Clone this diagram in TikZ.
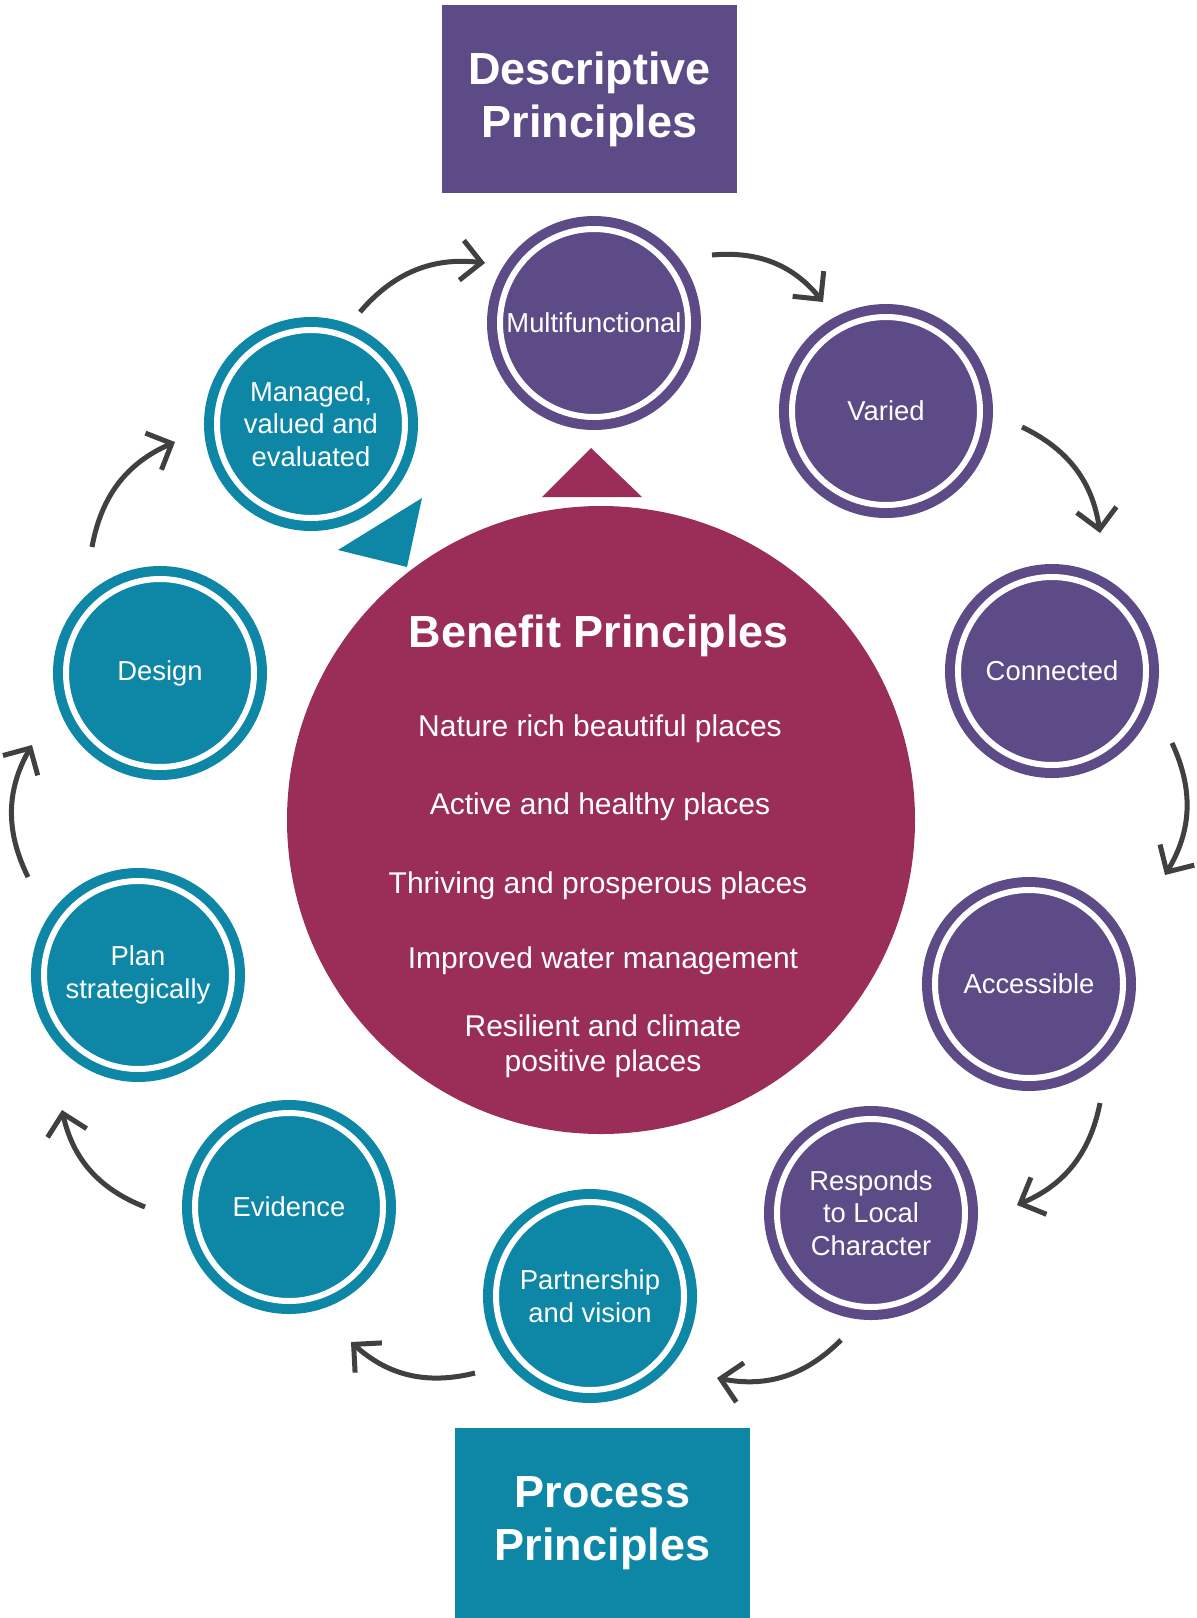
\documentclass[tikz,border=0pt]{standalone}
\usepackage{fontspec}
\setmainfont{Liberation Sans}
\usepackage{xcolor}
\usetikzlibrary{positioning,arrows.meta}

\definecolor{descpurple}{HTML}{5C4B87}
\definecolor{procteal}{HTML}{0E86A6}
\definecolor{benefitred}{HTML}{9A2E58}
\definecolor{arrowgray}{HTML}{404040}

\begin{document}
\begin{tikzpicture}[x=0.5pt, y=-0.5pt,
  every node/.style={text=white, align=center, font=\fontsize{13.7}{16.3}\selectfont},
  ring/.style={circle, inner sep=0pt, minimum size=94pt, line width=5pt, double=white, double distance=3pt},
  desc/.style={ring, fill=descpurple, draw=descpurple},
  proc/.style={ring, fill=procteal, draw=procteal},
  titlebox/.style={rectangle, inner sep=0pt, minimum width=147.5pt, font=\fontsize{22.5}{26.5}\selectfont\bfseries},
  item/.style={font=\fontsize{15}{17.5}\selectfont},
  flow/.style={draw=arrowgray, line width=2.5pt, -{Straight Barb[length=10pt,width=20pt]}, bend left=28}]

\useasboundingbox[fill=white] (0,0) rectangle (1197,1618);

% Title boxes
\node[titlebox, fill=descpurple, minimum height=94pt] (descbox) at (589.5,99) {Descriptive\\Principles};
\node[titlebox, fill=procteal, minimum height=95pt] (procbox) at (602.5,1523) {Process\\Principles};

% Benefit circle
\node[circle, fill=benefitred, minimum size=314pt, inner sep=0pt] (benefit) at (601,820) {};
\node[font=\fontsize{22.5}{26}\selectfont\bfseries] (btitle) at (599,636) {Benefit Principles};
\node[item] (nature) at (600,729) {Nature rich beautiful places};
\node[item] (active) at (600,807) {Active and healthy places};
\node[item] (thriving) at (598,886) {Thriving and prosperous places};
\node[item] (water) at (603,961) {Improved water management};
\node[item] (resilient) at (603,1046) {Resilient and climate\\positive places};

% Pointers
\fill[benefitred] (591,448) -- (542,497) -- (642,497) -- cycle;
\fill[procteal] (422,498) -- (338,550) -- (407,567) -- cycle;

% Descriptive principles
\node[desc] (multi) at (594,323) {Multifunctional};
\node[desc] (varied) at (886,411) {Varied};
\node[desc] (connected) at (1052,671) {Connected};
\node[desc] (access) at (1029,984) {Accessible};
\node[desc] (local) at (871,1213) {Responds\\to Local\\Character};

% Process principles
\node[proc] (vision) at (590,1296) {Partnership\\and vision};
\node[proc] (evidence) at (289,1207) {Evidence};
\node[proc] (plan) at (138,975) {Plan\\strategically};
\node[proc] (design) at (160,673) {Design};
\node[proc] (managed) at (311,424) {Managed,\\valued and\\evaluated};

% Arrow ends
\coordinate (s1) at (360,312);   \coordinate (e1) at (485,263);
\coordinate (s2) at (712,255);   \coordinate (e2) at (823,302);
\coordinate (s3) at (1022,427);  \coordinate (e3) at (1100,533);
\coordinate (s4) at (1172,743);  \coordinate (e4) at (1165,875);
\coordinate (s5) at (1100,1103); \coordinate (e5) at (1017,1205);
\coordinate (s6) at (841,1340);  \coordinate (e6) at (717,1378);
\coordinate (s7) at (475,1373);  \coordinate (e7) at (351,1342);
\coordinate (s8) at (145,1207);  \coordinate (e8) at (62,1110);
\coordinate (s9) at (28,877);    \coordinate (e9) at (32,745);
\coordinate (s10) at (92,547);   \coordinate (e10) at (175,442);

% Connecting arrows
\draw[flow] (s1) to (e1);
\draw[flow] (s2) to (e2);
\draw[flow] (s3) to (e3);
\draw[flow] (s4) to (e4);
\draw[flow] (s5) to (e5);
\draw[flow] (s6) to (e6);
\draw[flow] (s7) to (e7);
\draw[flow] (s8) to (e8);
\draw[flow] (s9) to (e9);
\draw[flow] (s10) to (e10);

\end{tikzpicture}
\end{document}
